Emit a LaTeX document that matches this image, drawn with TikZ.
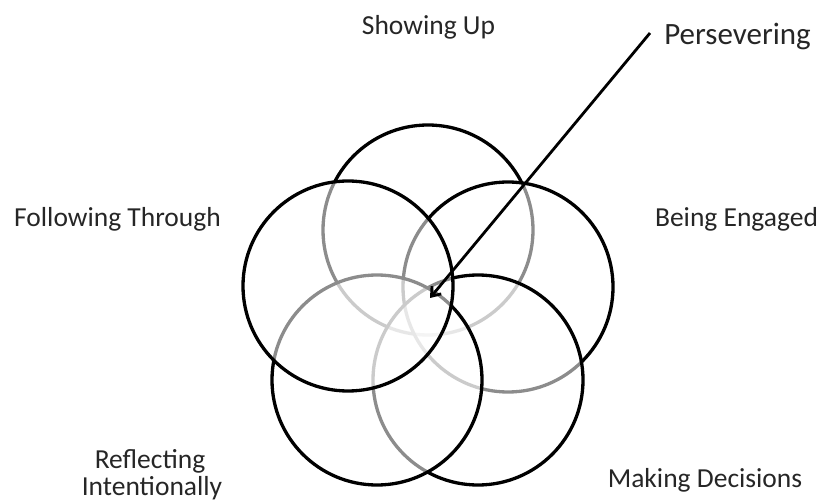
\documentclass[tikz,border=0pt]{standalone}
\usepackage{fontspec}
\setmainfont{Carlito}
\usetikzlibrary{arrows.meta}
\tikzset{
  ring/.style={circle, draw=black, line width=3.3pt, fill=white, fill opacity=0.55, draw opacity=1, inner sep=0pt, minimum size=210pt},
  lbl/.style={anchor=base, inner sep=0pt, text=black!85, font=\fontsize{27.5}{30}\selectfont},
  biglbl/.style={anchor=base, inner sep=0pt, text=black!85, font=\fontsize{31}{34}\selectfont},
  pointer/.style={line width=2.8pt, -{Straight Barb[length=8pt,width=12pt,line width=2.8pt]}}
}
\begin{document}
\begin{tikzpicture}[x=1pt,y=-1pt]
\useasboundingbox (0,0) rectangle (824,502);
% circles (drawing order gives the layered grey look)
\node[ring] (top) at (428,230) {};
\node[ring] (right) at (508,287) {};
\node[ring] (br) at (478,380) {};
\node[ring] (bl) at (377,380) {};
\node[ring] (left) at (348,286) {};
% labels
\node[lbl] (show) at (428.5,35) {Showing Up};
\node[biglbl] (per) at (737.5,45) {Persevering};
\node[lbl] (follow) at (117.5,226.7) {Following Through};
\node[lbl] (engage) at (736.5,227) {Being Engaged};
\node[lbl] (refl) at (150,468) {Reflecting};
\node[lbl] (intent) at (152,495) {Intentionally};
\node[lbl] (decide) at (705,487) {Making Decisions};
% arrow
\coordinate (astart) at (650,33);
\coordinate (aend) at (430,298);
\draw[pointer] (astart) -- (aend);
\end{tikzpicture}
\end{document}
